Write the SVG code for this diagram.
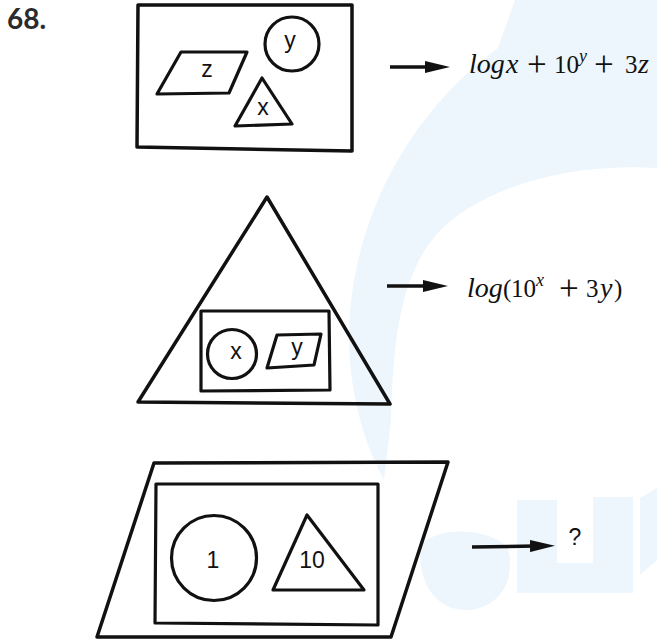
<svg xmlns="http://www.w3.org/2000/svg" width="657" height="640" viewBox="0 0 657 640">
<style>
.sh{fill:none;stroke:#111;stroke-width:3.5;stroke-linejoin:round}
.in{fill:none;stroke:#111;stroke-width:3.2;stroke-linejoin:round}
.lb{font-family:"Liberation Sans",Arial,sans-serif;font-size:23px;fill:#111;text-anchor:middle}
.m{font-family:"Liberation Serif","Times New Roman",serif;font-size:25px;fill:#111}
.mi{font-style:italic;font-size:28px}
.pl{font-size:35px}
.sup{font-style:italic;font-size:18px}
.wm{fill:#edf6fc}
.ar{stroke:#111;stroke-width:3.5;fill:none}
</style>
<defs>
<marker id="ah" viewBox="0 0 25 12" refX="5" refY="6" markerWidth="25" markerHeight="12" markerUnits="userSpaceOnUse" orient="auto">
<path d="M0,0 L25,6 L0,12 Z" fill="#111"/>
</marker>
</defs>
<rect width="657" height="640" fill="#fff"/>
<g id="watermark">
<path class="wm" d="M515,0 L657,0 L657,168 C565,163 478,188 436,235 C402,275 393,335 391,420 L384,480 C362,440 348,385 349,330 C352,230 400,120 498,48 Z"/>
<path class="wm" d="M517,500 h40 v63 h36 v-66 h40 v96 h-116 Z"/>
<path class="wm" d="M640,498 L657,488 L657,560 L640,575 Z"/>
<path class="wm" d="M420,545 C440,525 490,528 508,548 C515,575 505,605 470,610 C440,612 418,590 420,545 Z"/>
</g>
<text x="7" y="29" font-family="Lato, 'Open Sans', sans-serif" font-weight="bold" font-size="28" fill="#2b2b2b">68.</text>
<g id="node-rect">
<polygon class="sh" points="138,5 352,5 352,151 137,147"/>
<g id="rect-z"><polygon class="in" points="181,52 247,52 229,93 157,94"/><text class="lb" x="207" y="77">z</text></g>
<g id="rect-y"><circle class="in" cx="292" cy="44" r="27"/><text class="lb" x="290" y="48">y</text></g>
<g id="rect-x"><polygon class="in" points="262,78 292,124 235,126"/><text class="lb" x="263" y="115">x</text></g>
</g>
<g id="node-triangle">
<polygon class="sh" points="267,197 390,404 138,402"/>
<polygon class="in" points="201,311 329,311 330,390 201,391"/>
<g id="tri-x"><circle class="in" cx="232" cy="354" r="24.5"/><text class="lb" x="236" y="359">x</text></g>
<g id="tri-y"><polygon class="in" points="277,335 321,334 314,365 267,368"/><text class="lb" x="297" y="355">y</text></g>
</g>
<g id="node-parallelogram">
<polygon class="sh" points="154,463 448,462 391,637 97,637"/>
<polygon class="in" points="156,484 378,484 378,625 155,623"/>
<g id="par-1"><circle class="in" cx="214" cy="558" r="42.5"/><text class="lb" x="213" y="568" font-size="21">1</text></g>
<g id="par-10"><polygon class="in" points="307,515 364,590 273,590"/><text class="lb" x="312" y="568" font-size="21">10</text></g>
</g>
<g id="connectors">
<line class="ar" x1="390" y1="67" x2="430" y2="67" marker-end="url(#ah)"/>
<line class="ar" x1="387" y1="286" x2="428" y2="286" marker-end="url(#ah)"/>
<line class="ar" x1="472" y1="547" x2="535" y2="546" marker-end="url(#ah)"/>
</g>
<g id="result-1">
<text class="m" y="73"><tspan class="mi" x="469">log</tspan><tspan class="mi" x="506">x</tspan><tspan class="pl" x="527" y="76">+</tspan><tspan x="554" y="73">10</tspan><tspan class="sup" x="579" y="62">y</tspan><tspan class="pl" x="594" y="76">+</tspan><tspan x="625" y="73">3</tspan><tspan class="mi" x="638">z</tspan></text>
</g>
<g id="result-2">
<text class="m" y="297"><tspan class="mi" x="467">log</tspan><tspan x="503">(</tspan><tspan x="511">10</tspan><tspan class="sup" x="536" y="286">x</tspan><tspan class="pl" x="559" y="300">+</tspan><tspan x="586" y="297">3</tspan><tspan class="mi" x="600">y</tspan><tspan x="614">)</tspan></text>
</g>
<g id="result-3"><text class="lb" x="575" y="545" font-size="22">?</text></g>
</svg>
